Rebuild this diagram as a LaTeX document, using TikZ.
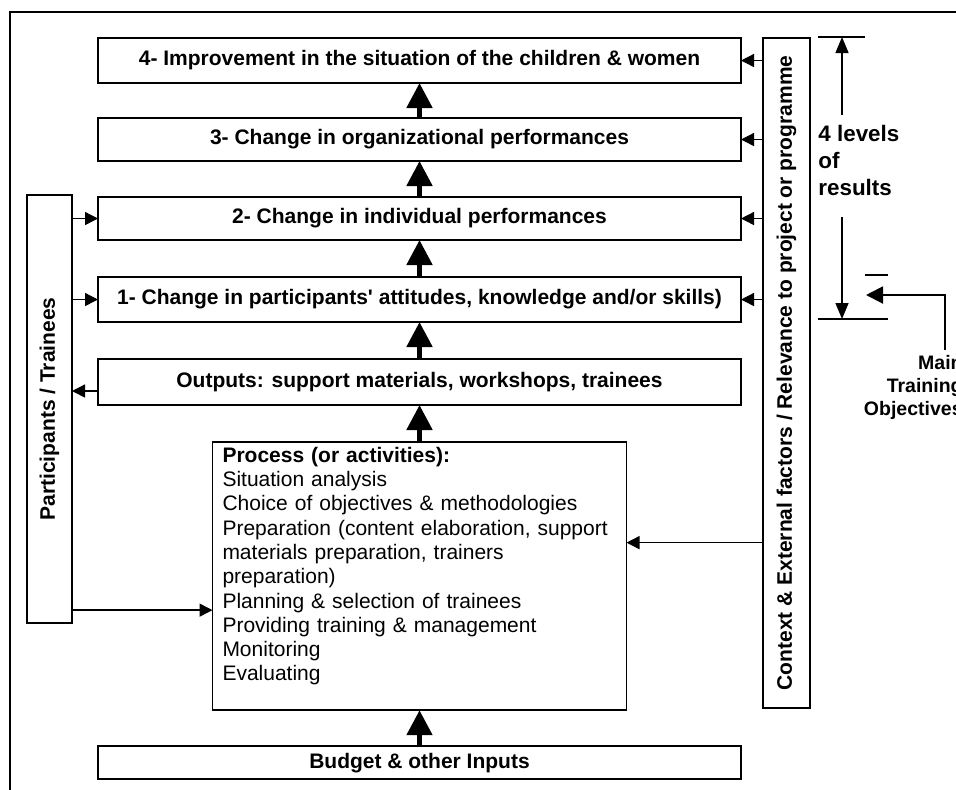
\documentclass[tikz,border=0pt]{standalone}
\usepackage{fontspec}
\setmainfont{Liberation Sans}
\usepackage{tikz}
\usetikzlibrary{arrows.meta,positioning,calc}

\begin{document}
\begin{tikzpicture}[x=0.5pt, y=-0.5pt, node distance=18pt,
    box/.style={draw, line width=0.8pt, outer sep=0pt, minimum width=321.5pt, minimum height=21.5pt, inner sep=0pt, font=\fontsize{10.5}{12.15}\selectfont\bfseries},
    side/.style={draw, line width=0.8pt, outer sep=0pt, rotate=90, inner sep=0pt, font=\fontsize{10.5}{12.15}\selectfont\bfseries},
    bigarrow/.style={-{Triangle[length=12.5pt,width=12.5pt]}, line width=2.5pt},
    thinarrow/.style={-{Triangle[length=6.5pt,width=6.5pt]}, line width=0.7pt}]

    % Frame
    \path[use as bounding box, clip] (0,0) rectangle (956,789);
    \draw[line width=1.3pt] (10,12) rectangle (1000,830);

    % Results
    \node[box, minimum height=22.5pt] (r4) at (419.5,60.5) {4- Improvement in the situation of the children \& women};
    \node[box, below=17.5pt of r4] (r3) {3- Change in organizational performances};
    \node[box, below=18pt of r3] (r2) {2- Change in individual performances};
    \node[box, below=18.5pt of r2, minimum height=22.5pt] (r1) {1- Change in participants\textquotesingle{} attitudes, knowledge and/or skills)};
    \node[box, below=18.5pt of r1, minimum height=23pt] (out) {Outputs: support materials, workshops, trainees};

    % Process
    \node[draw, line width=0.8pt, outer sep=0pt, below=18.5pt of out, minimum width=207pt, minimum height=133.5pt, text width=197pt, align=left, inner xsep=5pt, inner ysep=2.5pt, font=\fontsize{10.5}{12.15}\selectfont] (proc) {
        \textbf{Process (or activities):}\\
        Situation analysis\\
        Choice of objectives \& methodologies\\
        Preparation (content elaboration, support\\
        materials preparation, trainers\\
        preparation)\\
        Planning \& selection of trainees\\
        Providing training \& management\\
        Monitoring\\
        Evaluating\\
        ~
    };

    % Inputs
    \node[box, below=18pt of proc, minimum height=16.5pt] (budget) {Budget \& other Inputs};

    % Side boxes
    \node[side, minimum width=214pt, minimum height=22.5pt] (part) at (49.5,409) {Participants / Trainees};
    \node[side, minimum width=335pt, minimum height=23.5pt] (ctx) at (786.5,373) {Context \& External factors / Relevance to project or programme};

    % Main chain
    \foreach \a/\b in {r3/r4, r2/r3, r1/r2, out/r1, proc/out, budget/proc}
        \draw[bigarrow] (\a) -- (\b);

    % Context feeds
    \foreach \b in {r4, r3, r2, r1}
        \draw[thinarrow] (ctx.north |- \b.east) -- (\b.east);
    \coordinate (ctxin) at ([yshift=16.75pt]proc.east);
    \draw[thinarrow] (ctx.north |- ctxin) -- (ctxin);

    % Participants feeds
    \foreach \b in {r2, r1}
        \draw[thinarrow] (part.south |- \b.west) -- (\b.west);
    \coordinate (outfb) at ([yshift=-4.5pt]out.west);
    \draw[thinarrow] (outfb) -- (part.south |- outfb);
    \coordinate (partin) at ([yshift=-17pt]proc.west);
    \draw[thinarrow] (part.south |- partin) -- (partin);

    % Levels of results
    \node[anchor=north west, inner sep=0pt, align=left, font=\fontsize{11.2}{13.5}\selectfont\bfseries] (levels) at (818,125) {4 levels\\of\\results};
    \coordinate (lvtop) at (842,37);
    \coordinate (lvbot) at (842,319);
    \draw[line width=0.6pt] (818,37) -- (865,37);
    \draw[line width=0.6pt] (818,319) -- (888,319);
    \draw[line width=0.6pt] (865,275) -- (888,275);
    \draw[-{Triangle[length=8pt,width=6.5pt]}, line width=0.7pt] (842,115) -- (lvtop);
    \draw[-{Triangle[length=8pt,width=6.5pt]}, line width=0.7pt] (842,217) -- (lvbot);

    % Main training objectives
    \node[anchor=north east, inner sep=0pt, align=right, font=\fontsize{9.75}{11.5}\selectfont\bfseries] (obj) at (963,355) {Main\\Training\\Objectives};
    \coordinate (objtip) at (866,295);
    \coordinate (objfoot) at (945,350);
    \draw[-{Triangle[length=8.5pt,width=8.5pt]}, line width=1pt] (objfoot) |- (objtip);
\end{tikzpicture}
\end{document}
